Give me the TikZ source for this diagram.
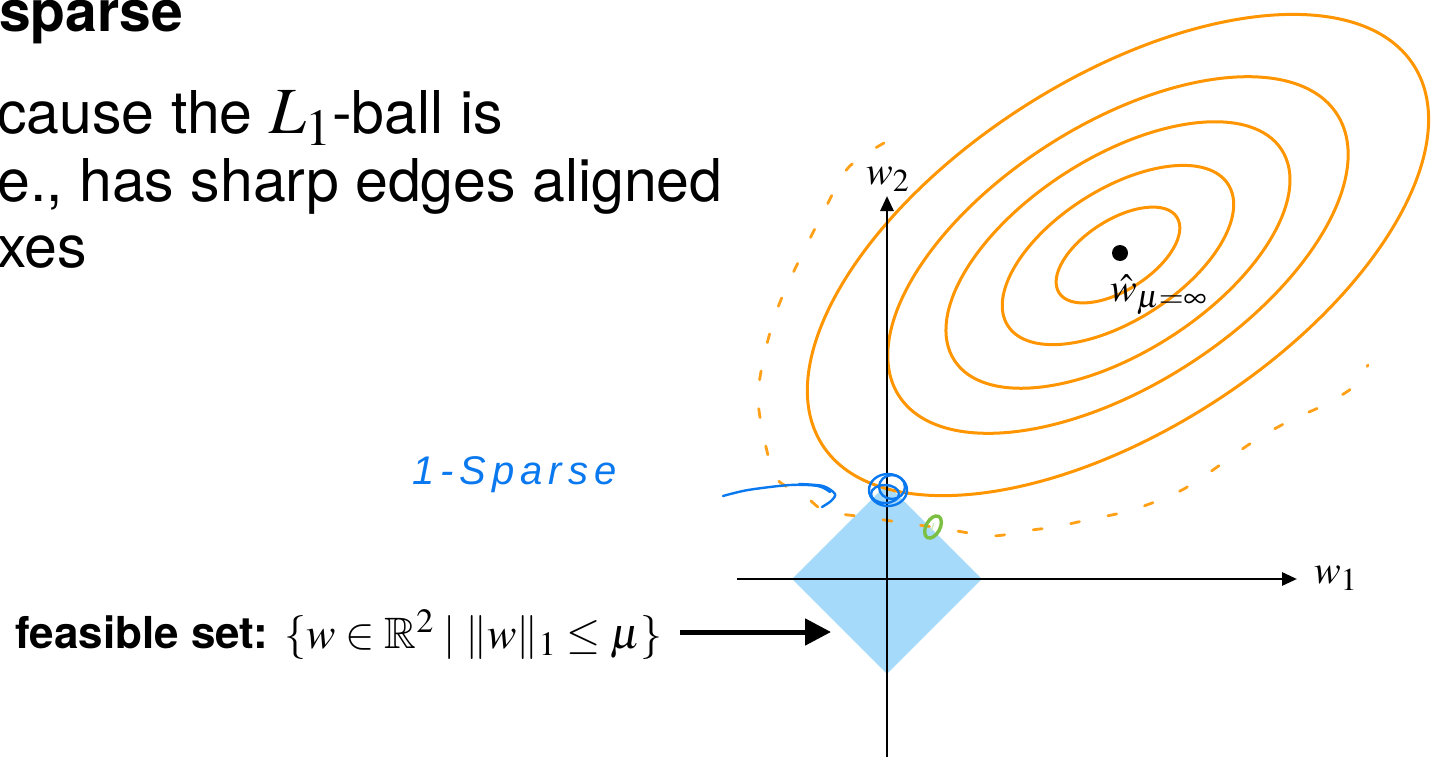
\documentclass[tikz,border=0pt]{standalone}
\usepackage{mathptmx}
\usepackage{amsmath,amssymb}
\usepackage[no-math]{fontspec}
\setsansfont{TeX Gyre Heros}
\newfontfamily\handfont{Liberation Sans}[LetterSpace=15]
\DeclareMathSizes{66}{66}{52}{40}
\DeclareMathSizes{44}{44}{34}{26}
\DeclareMathSizes{40}{40}{32}{24}
\usepackage{tikz}
\usetikzlibrary{positioning,arrows.meta,shapes.geometric}
\definecolor{ctorange}{HTML}{FF9500}
\definecolor{ballblue}{HTML}{A6DAFB}
\definecolor{penblue}{HTML}{0A78EE}
\definecolor{pengreen}{HTML}{7BC043}
\newcommand{\bigmath}[1]{{\fontsize{66}{67}\selectfont$#1$}}
\tikzset{
  slidetext/.style={font=\sffamily\fontsize{59}{67}\selectfont, inner sep=0pt, anchor=base west},
  slidehead/.style={font=\sffamily\bfseries\fontsize{57}{67}\selectfont, inner sep=0pt, anchor=base west},
  feastext/.style={font=\sffamily\fontsize{44}{50}\selectfont, inner sep=0pt, anchor=base west},
  axislabel/.style={font=\fontsize{40}{48}\selectfont, inner sep=0pt, anchor=base west},
  handnote/.style={font=\handfont\itshape\fontsize{40}{44}\selectfont, text=penblue, inner sep=0pt, anchor=base west},
  ball/.style={diamond, aspect=1, fill=ballblue, inner sep=0pt, minimum width=190pt, minimum height=190pt},
  optdot/.style={circle, fill=black, inner sep=0pt, minimum size=16pt},
  contour/.style={draw=ctorange, line width=3pt},
  handdash/.style={draw=ctorange!90, line width=2.8pt, line cap=round, dash pattern=on 9pt off 29pt},
  axisarrow/.style={-{Triangle[length=15pt,width=13pt]}, line width=2.8pt},
  bigarrow/.style={-{Triangle[length=26pt,width=26pt]}, line width=5pt},
  inkblue/.style={draw=penblue, line width=2.4pt, line cap=round, line join=round},
  inkgreen/.style={draw=pengreen, line width=3.4pt}
}
\begin{document}
\begin{tikzpicture}[x=1pt,y=-1pt]
  \useasboundingbox (0,0) rectangle (1437,757);
  \node[slidehead] (head) at (-1,32) {sparse};
  \node[slidetext] (line1) at (-3,133) {cause the \bigmath{L_1}-ball is};
  \node[slidetext] (line2) at (-3,201) {e., has sharp edges aligned};
  \node[slidetext] (line3) at (-3,267) {xes};
  \node[ball] (ball) at (887,579) {};
  \coordinate (wstar) at (1118,255);
  \foreach \f in {1,1.87,2.78,3.72,5.02}
    \draw[contour, rotate around={32.7:(wstar)}] (wstar) ellipse [x radius={70pt*\f}, y radius={35pt*\f}];
  \draw[handdash] plot[smooth] coordinates {(884,143) (848,168) (822,215) (793,273) (777,310) (765,352) (758,395) (763,433) (776,478) (804,495) (825,511) (865,517) (904,523) (933,527) (957,531) (993,536) (1032,530) (1055,527) (1087,520) (1125,512) (1152,503) (1182,490) (1210,472) (1238,452) (1262,436) (1295,418) (1320,407) (1352,388) (1368,365)};
  \coordinate (xL) at (737,579);
  \coordinate (xR) at (1297,579);
  \coordinate (yB) at (887,760);
  \coordinate (yT) at (887,196);
  \draw[axisarrow] (xL) -- (xR);
  \draw[axisarrow] (yB) -- (yT);
  \node[axislabel] (w1) at (1314,583) {$w_1$};
  \node[axislabel] (w2) at (866,184) {$w_2$};
  \node[optdot] (dot) at (1120,253) {};
  \node[axislabel] (what) at (1110,301) {$\hat{w}_{\mu=\infty}$};
  \node[feastext] (feas) at (15,648) {\textbf{feasible set:} $\{w\in\mathbb{R}^2 \mid \|w\|_1\leq\mu\}$};
  \coordinate (ballTip) at (831,632);
  \draw[bigarrow] (feas.east |- ballTip) ++(18,0) -- (ballTip);
  \node[handnote] (note) at (412,484) {1-Sparse};
  \draw[inkblue] plot[smooth] coordinates {(723,496) (748,490) (790,485) (818,486) (830,492)};
  \draw[inkblue] plot[smooth] coordinates {(799,484) (823,486) (835,494) (831,501) (822,507)};
  \draw[inkblue] (888,490) ellipse [x radius=19pt, y radius=16pt];
  \draw[inkblue] (892,487) ellipse [x radius=13pt, y radius=12pt];
  \draw[inkblue] (885,494) ellipse [x radius=14pt, y radius=9pt];
  \draw[inkgreen, rotate around={62:(933,527)}] (933,527) ellipse [x radius=12pt, y radius=7pt];
  \draw[draw=pengreen!35, line width=1.4pt] (931,531) -- (934,523);
\end{tikzpicture}
\end{document}
